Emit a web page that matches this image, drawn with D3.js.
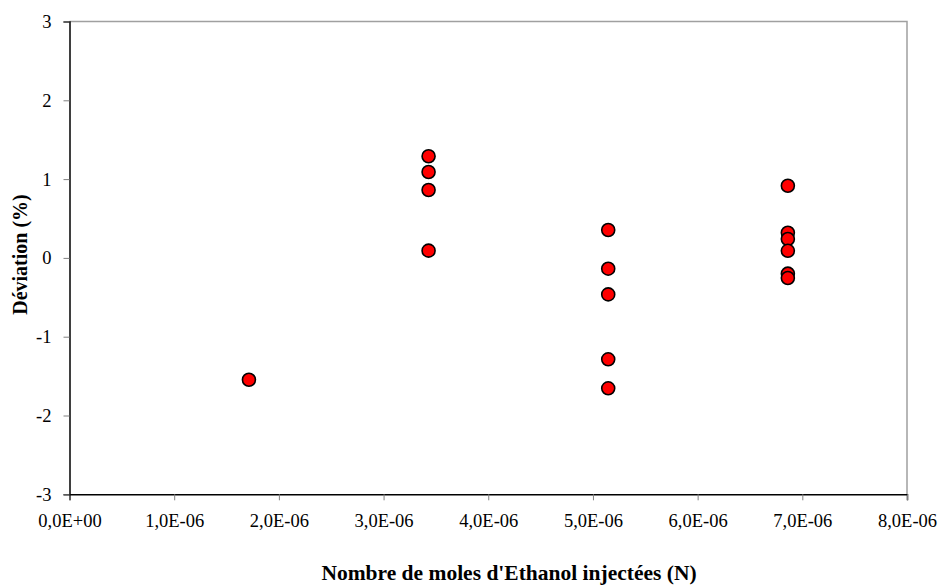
<!DOCTYPE html>
<html lang="fr">
<head>
<meta charset="UTF-8">
<title>Déviation</title>
<script src="https://d3js.org/d3.v7.min.js"></script>
<style>
  body { margin: 0; background: #fff; }
  text { font-family: "Liberation Serif", "Times New Roman", serif; }
</style>
</head>
<body>
<svg id="canvas" width="945" height="586"></svg>
<script>
  // moles injected (x) and deviation in % (y)
  const moles = [1.714e-6,
    3.43e-6, 3.43e-6, 3.43e-6, 3.43e-6,
    5.146e-6, 5.146e-6, 5.146e-6, 5.146e-6, 5.146e-6,
    6.862e-6, 6.862e-6, 6.862e-6, 6.862e-6, 6.862e-6, 6.862e-6];
  const deviation = [-1.546,
    1.29, 1.09, 0.862, 0.092,
    0.354, -0.137, -0.463, -1.287, -1.655,
    0.916, 0.32, 0.24, 0.09, -0.2, -0.255];
  const xTicks = [0, 1e-6, 2e-6, 3e-6, 4e-6, 5e-6, 6e-6, 7e-6, 8e-6];
  const yTicks = [-3, -2, -1, 0, 1, 2, 3];

  const svg = d3.select("#canvas");
  const mLeft = 69.5, mRight = 907, mTop = 21.5, mBottom = 494.3;

  const x = d3.scaleLinear().domain([0, 8e-6]).range([mLeft, mRight]);
  const y = d3.scaleLinear().domain([-3, 3]).range([mBottom, mTop]);

  // grey frame on top and right
  svg.append("path")
    .attr("d", "M" + mLeft + "," + mTop + "H" + mRight + "V" + mBottom)
    .attr("fill", "none").attr("stroke", "#a0a0a0").attr("stroke-width", 1.5);

  const fmtX = d => d3.format(".1e")(d).replace(".", ",").replace("e", "E")
    .replace(/E([+-])(\d)$/, "E$10$2");

  const gx = svg.append("g").attr("transform", "translate(0," + mBottom + ")")
    .call(d3.axisBottom(x).tickValues(xTicks).tickSize(6).tickFormat(fmtX));
  const gy = svg.append("g").attr("transform", "translate(" + mLeft + ",0)")
    .call(d3.axisLeft(y).tickValues(yTicks).tickSize(6).tickPadding(12).tickFormat(d => String(d)));

  [gx, gy].forEach(g => {
    g.select(".domain").attr("stroke", "#000").attr("stroke-width", 1.5);
    g.selectAll(".tick line").attr("stroke", "#808080");
    g.selectAll(".tick text").attr("fill", "#000").style("font-size", "18.5px")
      .style("font-family", "'Liberation Serif', serif");
  });
  gx.selectAll(".tick text").attr("y", 32.4).attr("dy", 0);

  svg.append("g").selectAll("circle")
    .data(moles.map((m, i) => [m, deviation[i]]))
    .enter().append("circle")
    .attr("cx", d => x(d[0]))
    .attr("cy", d => y(d[1]))
    .attr("r", 6.5)
    .attr("fill", "#ff0000")
    .attr("stroke", "#000")
    .attr("stroke-width", 1.6);

  svg.append("text")
    .attr("x", 509).attr("y", 580)
    .attr("text-anchor", "middle")
    .style("font-size", "21.5px").style("font-weight", "bold")
    .text("Nombre de moles d'Ethanol injectées (N)");

  svg.append("text")
    .attr("transform", "translate(27,254.5) rotate(-90)")
    .attr("text-anchor", "middle")
    .style("font-size", "20px").style("font-weight", "bold")
    .text("Déviation (%)");
</script>
</body>
</html>
